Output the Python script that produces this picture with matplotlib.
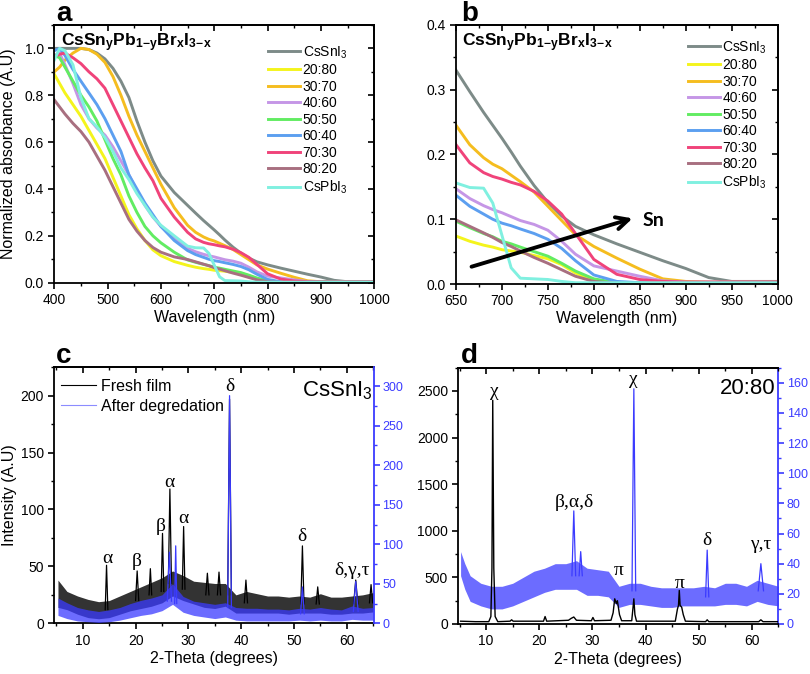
"""Absorbance and XRD panels for CsSnyPb1-yBrxI3-x films."""

import matplotlib

matplotlib.use("Agg")
import matplotlib.pyplot as plt
from matplotlib.lines import Line2D
from matplotlib.ticker import MultipleLocator

plt.rcParams["font.family"] = ["Liberation Sans", "DejaVu Sans"]
plt.rcParams["mathtext.fontset"] = "custom"
plt.rcParams["mathtext.rm"] = "Liberation Sans"
plt.rcParams["mathtext.it"] = "Liberation Sans:italic"
plt.rcParams["mathtext.bf"] = "Liberation Sans:bold"
plt.rcParams["mathtext.default"] = "regular"

# --- UV-vis absorbance (normalized), shared by panels a and b ---
WAVELENGTH = [400, 410, 420, 435, 450, 465, 480, 495, 510, 525, 540, 555, 570, 585,
              600, 625, 650, 665, 680, 690, 700, 710, 720, 735, 750, 765, 780, 800,
              825, 850, 875, 900, 925, 950, 1000]
CSSNI3 = [1.0, 1.0, 1.0, 1.0, 1.0, 0.995, 0.98, 0.955, 0.915, 0.86, 0.79, 0.69, 0.60,
          0.52, 0.455, 0.385, 0.33, 0.297, 0.265, 0.245, 0.225, 0.204, 0.182, 0.152,
          0.126, 0.105, 0.089, 0.076, 0.062, 0.049, 0.036, 0.024, 0.01, 0.004, 0.004]
R20_80 = [0.89, 0.85, 0.81, 0.76, 0.71, 0.65, 0.59, 0.53, 0.45, 0.37, 0.29, 0.23, 0.18,
          0.14, 0.115, 0.09, 0.074, 0.066, 0.06, 0.057, 0.053, 0.051, 0.049, 0.044,
          0.039, 0.03, 0.017, 0.005, 0.002, 0.002, 0.002, 0.002, 0.002, 0.002, 0.002]
R30_70 = [0.90, 0.92, 0.95, 0.98, 1.0, 0.995, 0.975, 0.94, 0.88, 0.80, 0.71, 0.63, 0.56,
          0.49, 0.42, 0.32, 0.245, 0.215, 0.195, 0.185, 0.178, 0.168, 0.158, 0.142,
          0.12, 0.098, 0.076, 0.058, 0.04, 0.023, 0.008, 0.004, 0.003, 0.003, 0.003]
R40_60 = [0.97, 0.98, 0.93, 0.85, 0.76, 0.70, 0.66, 0.63, 0.58, 0.52, 0.46, 0.39, 0.33,
          0.28, 0.24, 0.19, 0.147, 0.132, 0.121, 0.115, 0.11, 0.104, 0.098, 0.092,
          0.083, 0.066, 0.046, 0.028, 0.02, 0.012, 0.005, 0.003, 0.003, 0.003, 0.003]
R50_50 = [0.97, 0.96, 0.92, 0.86, 0.80, 0.75, 0.69, 0.61, 0.53, 0.46, 0.37, 0.30, 0.24,
          0.20, 0.17, 0.13, 0.097, 0.087, 0.078, 0.073, 0.066, 0.062, 0.057, 0.05,
          0.043, 0.032, 0.02, 0.008, 0.002, 0.002, 0.002, 0.002, 0.002, 0.002, 0.002]
R60_40 = [0.99, 1.0, 0.97, 0.91, 0.86, 0.81, 0.76, 0.70, 0.63, 0.56, 0.46, 0.40, 0.34,
          0.29, 0.24, 0.18, 0.137, 0.12, 0.108, 0.10, 0.094, 0.09, 0.085, 0.078,
          0.069, 0.055, 0.036, 0.014, 0.004, 0.002, 0.002, 0.002, 0.002, 0.002, 0.002]
R70_30 = [0.965, 0.975, 0.98, 0.96, 0.935, 0.90, 0.87, 0.83, 0.76, 0.69, 0.62, 0.55,
          0.49, 0.435, 0.36, 0.28, 0.215, 0.187, 0.172, 0.166, 0.162, 0.157, 0.153,
          0.143, 0.128, 0.108, 0.078, 0.038, 0.015, 0.007, 0.004, 0.003, 0.003, 0.003,
          0.003]
R80_20 = [0.78, 0.75, 0.72, 0.68, 0.645, 0.60, 0.54, 0.48, 0.41, 0.34, 0.27, 0.22, 0.18,
          0.15, 0.13, 0.11, 0.099, 0.089, 0.079, 0.072, 0.064, 0.058, 0.051, 0.041,
          0.032, 0.022, 0.012, 0.004, 0.001, 0.001, 0.001, 0.001, 0.001, 0.001, 0.001]
CSPBI3 = [0.95, 1.0, 0.99, 0.93, 0.79, 0.70, 0.665, 0.62, 0.56, 0.49, 0.44, 0.38, 0.33,
          0.28, 0.245, 0.20, 0.156, 0.149, 0.148, 0.125, 0.075, 0.025, 0.009, 0.008,
          0.007, 0.004, 0.002, 0.002, 0.002, 0.002, 0.002, 0.002, 0.002, 0.002, 0.002]

SERIES_LABELS = ["CsSnI$_3$", "20:80", "30:70", "40:60", "50:50", "60:40", "70:30",
                 "80:20", "CsPbI$_3$"]
SERIES_VALUES = [CSSNI3, R20_80, R30_70, R40_60, R50_50, R60_40, R70_30, R80_20, CSPBI3]
SERIES_COLORS = ["#7d8b88", "#f4f41c", "#f5bd1f", "#c596e6", "#62ec62", "#5c9ff0",
                 "#f0437a", "#a86f80", "#80f0e0"]

# Arrow in panel b: tail and head (wavelength, absorbance)
SN_ARROW_TAIL = (664, 0.0255)
SN_ARROW_HEAD = (845, 0.1026)

# --- XRD panel c (CsSnI3): noise envelope on a coarse 2-theta grid ---
C_GRID = [5.3, 7, 9, 11, 13, 15, 17, 19, 21, 23, 25, 27, 29, 31, 33, 35, 37, 39, 41, 43,
          45, 47, 49, 51, 53, 55, 57, 59, 61, 63, 65]
C_FRESH_LOW = [14, 12, 8, 5, 4, 5, 8, 11, 13, 15, 18, 24, 20, 17, 14, 13, 15, 9, 9, 9,
               9, 9, 8, 9, 9, 9, 8, 8, 9, 9, 10]
C_FRESH_HIGH = [38, 28, 24, 21, 19, 20, 24, 28, 32, 36, 40, 46, 42, 37, 36, 35, 35, 25,
                28, 26, 24, 24, 23, 24, 23, 26, 23, 23, 24, 25, 27]
C_DEGRADED_LOW = [10, 6, 3, 2, 1, 2, 4, 7, 10, 12, 16, 24, 14, 10, 8, 6, 8, 4, 3, 3, 3,
                  3, 3, 4, 3, 4, 3, 3, 5, 4, 4]
C_DEGRADED_HIGH = [32, 26, 20, 17, 15, 17, 20, 25, 29, 32, 36, 50, 34, 28, 26, 24, 26,
                   20, 19, 19, 18, 18, 17, 19, 18, 20, 18, 17, 22, 19, 20]
# peaks: position (deg), top, foot level, half width (deg)
C_FRESH_PEAK_POS = [14.5, 20.3, 22.8, 25.1, 26.5, 29.1, 33.6, 35.8, 37.8, 40.9, 51.6,
                    54.5, 61.7, 64.6]
C_FRESH_PEAK_TOP = [51, 46, 48, 79, 118, 85, 44, 45, 197, 38, 68, 32, 38, 34]
C_FRESH_PEAK_FOOT = [12, 20, 25, 28, 35, 30, 25, 25, 25, 18, 17, 17, 17, 18]
C_FRESH_PEAK_HW = [0.25, 0.3, 0.25, 0.25, 0.3, 0.25, 0.3, 0.3, 0.35, 0.3, 0.3, 0.3,
                   0.4, 0.3]
C_DEGRADED_PEAK_POS = [26.4, 27.6, 37.8, 51.6, 61.7]
C_DEGRADED_PEAK_TOP = [90, 98, 288, 46, 53]
C_DEGRADED_PEAK_FOOT = [28, 25, 20, 12, 15]
C_DEGRADED_PEAK_HW = [0.4, 0.2, 0.35, 0.35, 0.45]
C_PHASE_LABELS = ["α", "β", "β", "α", "α", "δ", "δ", "δ,γ,τ"]
C_PHASE_X = [14.6, 20.2, 24.8, 26.4, 29.05, 37.8, 51.5, 60.95]
C_PHASE_Y = [57, 54, 85, 124, 92, 208, 76, 46]

# --- XRD panel d (20:80) ---
D_FRESH_X = [5.2, 8, 10.5, 10.9, 11.1, 11.25, 11.45, 11.7, 12.2, 14.5, 14.8, 15.1, 20.8,
             21.1, 21.4, 25.5, 26.0, 26.5, 27.0, 29.8, 30.1, 30.4, 33.5, 33.9, 34.2, 34.5,
             34.7, 35.1, 35.5, 37.4, 37.6, 37.8, 38.0, 38.3, 45.6, 46.0, 46.2, 46.35,
             46.5, 46.8, 47.1, 47.5, 51.3, 51.6, 51.9, 61.3, 61.7, 62.1, 65]
D_FRESH_Y = [30, 25, 25, 80, 600, 2400, 600, 80, 25, 30, 45, 30, 30, 80, 30, 40, 60, 75,
             40, 35, 70, 35, 40, 120, 270, 220, 250, 100, 35, 35, 150, 270, 100, 30, 30,
             160, 200, 360, 200, 180, 100, 30, 25, 45, 25, 25, 45, 25, 25]
D_GRID = [5.2, 6, 7, 9, 11, 13, 15, 17, 19, 21, 23, 25, 27, 29, 31, 33, 35, 37, 39, 41,
          43, 45, 47, 49, 51, 53, 55, 57, 59, 61, 63, 65]
D_DEGRADED_LOW = [32, 23, 15, 12, 10, 10, 12, 15, 18, 21, 23, 23, 23, 19, 19, 18, 11,
                  13, 13, 12, 11, 11, 12, 12, 12, 12, 13, 13, 12, 15, 13, 12]
D_DEGRADED_HIGH = [48, 40, 32, 27, 25, 25, 27, 31, 35, 37, 40, 40, 42, 37, 36, 35, 25,
                   27, 27, 25, 24, 24, 24, 24, 25, 24, 27, 27, 25, 29, 27, 25]
D_DEGRADED_PEAK_POS = [26.5, 27.8, 37.8, 51.6, 61.7]
D_DEGRADED_PEAK_TOP = [75, 48, 156, 49, 40]
D_DEGRADED_PEAK_FOOT = [32, 32, 22, 18, 22]
D_DEGRADED_PEAK_HW = [0.35, 0.3, 0.35, 0.3, 0.5]
D_PHASE_LABELS = ["χ", "χ", "β,α,δ", "π", "π", "δ", "γ,τ"]
D_PHASE_X = [11.6, 37.7, 26.6, 35.0, 46.5, 51.5, 61.75]
D_PHASE_Y = [2493, 2618, 1302, 572, 436, 894, 858]

XRD_BLUE = "#3b3bff"
TICK_SIZE = 10
LABEL_SIZE = 11.5


def _style_axis(ax, x_major, x_minor, y_major, y_minor, mirror_y=True):
    ax.xaxis.set_major_locator(MultipleLocator(x_major))
    ax.xaxis.set_minor_locator(MultipleLocator(x_minor))
    ax.yaxis.set_major_locator(MultipleLocator(y_major))
    ax.yaxis.set_minor_locator(MultipleLocator(y_minor))
    ax.tick_params(which="major", direction="out", length=4, width=1.2, labelsize=TICK_SIZE)
    ax.tick_params(which="minor", direction="out", length=2.2, width=1.0)
    for spine in ax.spines.values():
        spine.set_linewidth(1.3)
    top = ax.secondary_xaxis("top")
    top.xaxis.set_major_locator(MultipleLocator(x_major))
    top.xaxis.set_minor_locator(MultipleLocator(x_minor))
    top.tick_params(which="major", direction="in", length=4, width=1.2, labeltop=False)
    top.tick_params(which="minor", direction="in", length=2.2, width=1.0)
    top.spines["top"].set_linewidth(1.3)
    if mirror_y:
        right = ax.secondary_yaxis("right")
        right.yaxis.set_major_locator(MultipleLocator(y_major))
        right.yaxis.set_minor_locator(MultipleLocator(y_minor))
        right.tick_params(which="major", direction="in", length=4, width=1.2,
                          labelright=False)
        right.tick_params(which="minor", direction="in", length=2.2, width=1.0)
        right.spines["right"].set_linewidth(1.3)


def _draw_trace(ax, grid, low, high, peak_pos, peak_top, peak_foot, peak_hw, color,
                band_alpha):
    ax.fill_between(grid, low, high, color=color, lw=0, alpha=band_alpha)
    for pos, top, foot, hw in zip(peak_pos, peak_top, peak_foot, peak_hw):
        ax.plot([pos - hw, pos, pos + hw], [foot, top, foot], color=color, lw=0.9)


def _absorbance_panel(ax, xlim, ylim, x_major, y_major, legend_anchor):
    for label, values, color in zip(SERIES_LABELS, SERIES_VALUES, SERIES_COLORS):
        ax.plot(WAVELENGTH, values, color=color, lw=2.1, label=label)
    ax.set_xlim(*xlim)
    ax.set_ylim(*ylim)
    _style_axis(ax, x_major, x_major / 2, y_major, y_major / 2)
    ax.set_xlabel("Wavelength (nm)", fontsize=LABEL_SIZE)
    ax.xaxis.set_label_coords(0.5, -0.105)
    ax.legend(loc="upper left", bbox_to_anchor=legend_anchor, frameon=False,
              fontsize=10, handlelength=2.3, handletextpad=0.2, labelspacing=0.18,
              borderpad=0, borderaxespad=0)
    ax.text(0.02, 0.916, r"$\mathbf{CsSn_yPb_{1\!-\!y}Br_xI_{3\!-\!x}}$",
            transform=ax.transAxes, fontsize=12.5, va="baseline", ha="left")


fig = plt.figure(figsize=(8.1, 6.74), dpi=100)

# panel a
ax_a = fig.add_axes([0.067, 0.5806, 0.395, 0.3824])
_absorbance_panel(ax_a, (400, 1000), (0, 1.1), 100, 0.2, (0.668, 0.925))
ax_a.set_ylabel("Normalized absorbance (A.U)", fontsize=LABEL_SIZE)
ax_a.yaxis.set_label_coords(-0.12, 0.5)

# panel b
ax_b = fig.add_axes([0.563, 0.5786, 0.397, 0.3844])
_absorbance_panel(ax_b, (650, 1000), (0, 0.4), 50, 0.1, (0.72, 0.945))
ax_b.annotate("", xy=SN_ARROW_HEAD, xytext=SN_ARROW_TAIL,
              arrowprops=dict(arrowstyle="->", lw=2.8, color="black", mutation_scale=22))
ax_b.text(SN_ARROW_HEAD[0] + 8, SN_ARROW_HEAD[1] - 0.004, "Sn", fontsize=14,
          fontweight="bold", family=["Lato", "DejaVu Sans"], va="center", ha="left")

# panel c
ax_c = fig.add_axes([0.067, 0.0752, 0.395, 0.380])
ax_c.set_xlim(4.6, 65.2)
ax_c.set_ylim(0, 225)
_style_axis(ax_c, 10, 5, 50, 25, mirror_y=False)
ax_c.spines["right"].set_visible(False)
_draw_trace(ax_c, C_GRID, C_FRESH_LOW, C_FRESH_HIGH, C_FRESH_PEAK_POS, C_FRESH_PEAK_TOP,
            C_FRESH_PEAK_FOOT, C_FRESH_PEAK_HW, "black", 0.8)
ax_c2 = ax_c.twinx()
ax_c2.set_ylim(0, 324)
_draw_trace(ax_c2, C_GRID, C_DEGRADED_LOW, C_DEGRADED_HIGH, C_DEGRADED_PEAK_POS,
            C_DEGRADED_PEAK_TOP, C_DEGRADED_PEAK_FOOT, C_DEGRADED_PEAK_HW, XRD_BLUE, 0.75)
for label, x, y in zip(C_PHASE_LABELS, C_PHASE_X, C_PHASE_Y):
    ax_c.text(x, y, label, fontsize=14, family="Liberation Serif", ha="center",
              va="center")
ax_c.set_xlabel("2-Theta (degrees)", fontsize=LABEL_SIZE)
ax_c.xaxis.set_label_coords(0.5, -0.11)
ax_c.set_ylabel("Intensity (A.U)", fontsize=LABEL_SIZE)
ax_c.yaxis.set_label_coords(-0.118, 0.5)
ax_c2.text(0.994, 0.907, "CsSnI$_3$", transform=ax_c2.transAxes, fontsize=16,
           ha="right", va="center")
legend_handles = [Line2D([], [], color="black", lw=0.8),
                  Line2D([], [], color="#8c8cff", lw=0.8)]
ax_c2.legend(legend_handles, ["Fresh film", "After degredation"], loc="upper left",
             bbox_to_anchor=(0.021, 0.955), frameon=False, fontsize=11.5,
             handlelength=2.2, handletextpad=0.3, labelspacing=0.3, borderpad=0,
             borderaxespad=0)

# panel d
ax_d = fig.add_axes([0.566, 0.0742, 0.395, 0.3803])
ax_d.set_xlim(4.8, 65)
ax_d.set_ylim(0, 2750)
_style_axis(ax_d, 10, 5, 500, 250, mirror_y=False)
ax_d.spines["right"].set_visible(False)
ax_d.plot(D_FRESH_X, D_FRESH_Y, color="black", lw=1.0)
ax_d2 = ax_d.twinx()
ax_d2.set_ylim(0, 170)
_draw_trace(ax_d2, D_GRID, D_DEGRADED_LOW, D_DEGRADED_HIGH, D_DEGRADED_PEAK_POS,
            D_DEGRADED_PEAK_TOP, D_DEGRADED_PEAK_FOOT, D_DEGRADED_PEAK_HW, XRD_BLUE, 0.75)
ax_d.set_zorder(ax_d2.get_zorder() + 1)
ax_d.patch.set_visible(False)
for label, x, y in zip(D_PHASE_LABELS, D_PHASE_X, D_PHASE_Y):
    ax_d.text(x, y, label, fontsize=14, family="Liberation Serif", ha="center",
              va="center")
ax_d.set_xlabel("2-Theta (degrees)", fontsize=LABEL_SIZE)
ax_d.xaxis.set_label_coords(0.5, -0.11)
ax_d.text(0.99, 0.92, "20:80", transform=ax_d.transAxes, fontsize=16, ha="right",
          va="center")

for twin, major, minor in ((ax_c2, 50, 25), (ax_d2, 20, 10)):
    twin.yaxis.set_major_locator(MultipleLocator(major))
    twin.yaxis.set_minor_locator(MultipleLocator(minor))
    twin.tick_params(which="major", direction="out", length=4, width=1.2, pad=2,
                     labelsize=9, colors=XRD_BLUE)
    twin.tick_params(which="minor", direction="out", length=2.2, width=1.0,
                     colors=XRD_BLUE)
    twin.spines["right"].set_color(XRD_BLUE)
    twin.spines["right"].set_linewidth(1.3)
    for side in ("left", "top", "bottom"):
        twin.spines[side].set_visible(False)

for letter, x, y in (("a", 56, 21), ("b", 461, 21), ("c", 56, 363), ("d", 461, 363)):
    fig.text(x / 810, 1 - y / 674, letter, fontsize=20, fontweight="bold",
             va="baseline", ha="left")

fig.savefig("out.png", dpi=100)
plt.close(fig)
